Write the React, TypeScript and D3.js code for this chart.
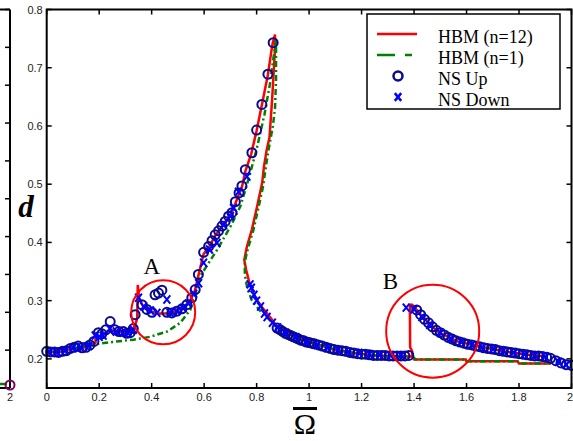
import React from "react";
import * as d3 from "d3";

const W = 573;
const H = 441;

// HBM n=12, solid red, [Omega, d]
const hbm12Main: [number, number][] = [
  [0.0, 0.212], [0.05, 0.212], [0.1, 0.218], [0.14, 0.219], [0.17, 0.225], [0.186, 0.228],
  [0.186, 0.246], [0.19, 0.236], [0.21, 0.24], [0.24, 0.25], [0.27, 0.247], [0.3, 0.246],
  [0.325, 0.247], [0.34, 0.262], [0.345, 0.27], [0.347, 0.327], [0.352, 0.305], [0.365, 0.292],
  [0.38, 0.286], [0.4, 0.281], [0.42, 0.278], [0.47, 0.278], [0.49, 0.282], [0.51, 0.286],
  [0.53, 0.292], [0.55, 0.303], [0.565, 0.318], [0.578, 0.343], [0.598, 0.38], [0.62, 0.393],
  [0.64, 0.41], [0.68, 0.435], [0.706, 0.452], [0.72, 0.468], [0.745, 0.497], [0.757, 0.522],
  [0.78, 0.553], [0.8, 0.592], [0.82, 0.636], [0.843, 0.688], [0.86, 0.74], [0.87, 0.757],
  [0.87, 0.73], [0.866, 0.7], [0.859, 0.645], [0.849, 0.58], [0.838, 0.558], [0.828, 0.53],
  [0.821, 0.502], [0.802, 0.462], [0.782, 0.422], [0.763, 0.393], [0.753, 0.37], [0.76, 0.353],
  [0.773, 0.33], [0.795, 0.305], [0.827, 0.285], [0.859, 0.267], [0.878, 0.255], [0.929, 0.241],
  [0.97, 0.233], [1.018, 0.227], [1.06, 0.221], [1.094, 0.216], [1.13, 0.213], [1.17, 0.21],
  [1.21, 0.208], [1.247, 0.206], [1.3, 0.205], [1.393, 0.204], [1.393, 0.213], [1.385, 0.22],
  [1.384, 0.293], [1.393, 0.293], [1.425, 0.276], [1.489, 0.247], [1.565, 0.23], [1.641, 0.222],
  [1.743, 0.213], [1.832, 0.207], [1.908, 0.204],
];
const hbm12Lower: [number, number][] = [
  [1.393, 0.204], [1.4, 0.199], [1.597, 0.199], [1.6, 0.196], [1.794, 0.196], [1.8, 0.192], [1.921, 0.192],
];

// HBM n=1, green dash-dot
const hbm1: [number, number][] = [
  [0.0, 0.214], [0.1, 0.218], [0.15, 0.222], [0.2, 0.226], [0.25, 0.229], [0.33, 0.233],
  [0.395, 0.238], [0.459, 0.247], [0.509, 0.262], [0.547, 0.284], [0.57, 0.315], [0.585, 0.342],
  [0.649, 0.387], [0.7, 0.427], [0.738, 0.462], [0.77, 0.51], [0.8, 0.56], [0.83, 0.62],
  [0.85, 0.67], [0.865, 0.72], [0.874, 0.748], [0.874, 0.68], [0.87, 0.63], [0.862, 0.6],
  [0.852, 0.575], [0.842, 0.55], [0.832, 0.52], [0.825, 0.497], [0.807, 0.46], [0.787, 0.42],
  [0.767, 0.39], [0.755, 0.367], [0.755, 0.345], [0.764, 0.322], [0.782, 0.3], [0.82, 0.279],
  [0.86, 0.263], [0.9, 0.25], [0.95, 0.238], [1.0, 0.229], [1.1, 0.216], [1.2, 0.208],
  [1.3, 0.204], [1.4, 0.202], [1.406, 0.199], [1.597, 0.199], [1.6, 0.196], [1.794, 0.196],
  [1.8, 0.192], [1.921, 0.192],
];

// numerical simulation, sweep up (circles)
const nsUp: [number, number][] = [
  [0.0, 0.213], [0.015, 0.212], [0.03, 0.212], [0.045, 0.211], [0.06, 0.213], [0.075, 0.214],
  [0.09, 0.218], [0.105, 0.22], [0.12, 0.222], [0.135, 0.219], [0.15, 0.22], [0.165, 0.224],
  [0.18, 0.23], [0.197, 0.245], [0.21, 0.243], [0.225, 0.25], [0.242, 0.264], [0.26, 0.25],
  [0.275, 0.247], [0.292, 0.247], [0.305, 0.244], [0.318, 0.245], [0.33, 0.252], [0.337, 0.276],
  [0.363, 0.293], [0.382, 0.285], [0.401, 0.28], [0.413, 0.31], [0.426, 0.313], [0.439, 0.318],
  [0.458, 0.28], [0.477, 0.279], [0.496, 0.282], [0.515, 0.286], [0.534, 0.293], [0.553, 0.305],
  [0.566, 0.319], [0.578, 0.345], [0.598, 0.383], [0.617, 0.393], [0.63, 0.403], [0.642, 0.413],
  [0.655, 0.42], [0.668, 0.428], [0.68, 0.436], [0.693, 0.445], [0.706, 0.451], [0.719, 0.47],
  [0.733, 0.485], [0.744, 0.497], [0.757, 0.525], [0.782, 0.554], [0.8, 0.593], [0.82, 0.637],
  [0.843, 0.689], [0.863, 0.743],
  [0.878, 0.253], [0.89, 0.25], [0.9, 0.247], [0.91, 0.244], [0.92, 0.242], [0.93, 0.24],
  [0.94, 0.238], [0.95, 0.236], [0.96, 0.234], [0.97, 0.232], [0.98, 0.231], [0.99, 0.229],
  [1.0, 0.228], [1.01, 0.227], [1.02, 0.226], [1.035, 0.224], [1.05, 0.222], [1.065, 0.22],
  [1.08, 0.218], [1.095, 0.216], [1.11, 0.215], [1.125, 0.214], [1.14, 0.213], [1.155, 0.211],
  [1.17, 0.21], [1.185, 0.209], [1.2, 0.208], [1.215, 0.208], [1.23, 0.207], [1.245, 0.206],
  [1.26, 0.206], [1.275, 0.206], [1.29, 0.206], [1.305, 0.205], [1.32, 0.205], [1.335, 0.205],
  [1.35, 0.205], [1.365, 0.205], [1.38, 0.206],
  [1.41, 0.284], [1.425, 0.276], [1.44, 0.268], [1.455, 0.262], [1.47, 0.255], [1.485, 0.249],
  [1.5, 0.245], [1.515, 0.241], [1.53, 0.237], [1.545, 0.234], [1.56, 0.231], [1.575, 0.229],
  [1.59, 0.227], [1.605, 0.225], [1.62, 0.224], [1.635, 0.222], [1.65, 0.221], [1.665, 0.219],
  [1.68, 0.218], [1.695, 0.217], [1.71, 0.216], [1.725, 0.214], [1.74, 0.213], [1.755, 0.212],
  [1.77, 0.211], [1.785, 0.21], [1.8, 0.209], [1.815, 0.208], [1.83, 0.207], [1.845, 0.206],
  [1.86, 0.205], [1.875, 0.205], [1.89, 0.204], [1.905, 0.203], [1.92, 0.201], [1.94, 0.197],
  [1.96, 0.193], [1.98, 0.19], [2.0, 0.189],
];

// numerical simulation, sweep down (crosses)
const nsDown: [number, number][] = [
  [1.98, 0.19], [1.95, 0.195], [1.9, 0.204], [1.86, 0.206], [1.82, 0.208], [1.78, 0.211],
  [1.74, 0.214], [1.7, 0.217], [1.66, 0.22], [1.62, 0.224], [1.58, 0.229], [1.54, 0.235],
  [1.5, 0.245], [1.46, 0.258], [1.43, 0.272], [1.4, 0.285], [1.37, 0.288],
  [1.35, 0.206], [1.31, 0.206], [1.27, 0.207], [1.23, 0.208], [1.19, 0.21], [1.15, 0.212],
  [1.11, 0.215], [1.07, 0.219], [1.03, 0.224], [0.99, 0.229], [0.95, 0.237], [0.91, 0.245],
  [0.88, 0.254], [0.86, 0.262], [0.84, 0.272], [0.83, 0.278], [0.815, 0.29], [0.8, 0.3],
  [0.79, 0.31], [0.78, 0.322], [0.775, 0.328],
  [0.763, 0.513], [0.731, 0.487], [0.712, 0.459], [0.7, 0.445], [0.674, 0.43], [0.649, 0.399],
  [0.62, 0.388], [0.598, 0.365], [0.579, 0.33], [0.56, 0.312], [0.54, 0.295], [0.52, 0.287],
  [0.496, 0.282], [0.47, 0.279], [0.458, 0.302], [0.42, 0.279], [0.395, 0.283], [0.37, 0.29],
  [0.35, 0.305], [0.33, 0.25], [0.31, 0.244], [0.29, 0.245], [0.265, 0.247], [0.24, 0.252],
  [0.215, 0.24], [0.2, 0.238], [0.185, 0.24], [0.16, 0.222], [0.13, 0.22], [0.1, 0.219],
  [0.07, 0.214], [0.04, 0.211], [0.01, 0.212],
];

const xTicks = [0, 0.2, 0.4, 0.6, 0.8, 1, 1.2, 1.4, 1.6, 1.8, 2];
const yTicks = [0.2, 0.3, 0.4, 0.5, 0.6, 0.7, 0.8];
const legendLabels = ["HBM (n=12)", "HBM (n=1)", "NS Up", "NS Down"];

const calloutNames = ["A", "B"];
const calloutCenters: [number, number][] = [[0.444, 0.28], [1.471, 0.2476]];
const calloutLabelAt: [number, number][] = [[0.401, 0.345], [1.31, 0.32]];

// the neighbouring panel that is cut off on the left
const sideTicks = [0, 0.1, 0.2, 0.3, 0.4, 0.5, 0.6, 0.7, 0.8, 0.9, 1];

const RED = "#ff0000";
const GREEN = "#008000";
const NAVY = "#0a0a8c";
const BLUE = "#0000ff";
const SANS = "'Liberation Sans', Arial, sans-serif";
const SERIF = "'Liberation Serif', 'Times New Roman', serif";

export default function App() {
  const left = 46.7;
  const right = 571.5;
  const top = 9.5;
  const bottom = 388;

  const x = d3.scaleLinear().domain([0, 2]).range([left, right]);
  const y = d3.scaleLinear().domain([0.15, 0.8]).range([bottom, top]);
  const side = d3.scaleLinear().domain([0, 1]).range([bottom, top]);

  const line = d3
    .line<[number, number]>()
    .x((d) => x(d[0]))
    .y((d) => y(d[1]));

  const cross = (cx: number, cy: number, s: number) =>
    `M${cx - s},${cy - s * 1.2}L${cx + s},${cy + s * 1.2}M${cx - s},${cy + s * 1.2}L${cx + s},${cy - s * 1.2}`;

  const tickLen = 5;
  const radii = [32, 46.5];

  // legend box
  const lg = { x: 367, y: 14, w: 193, h: 95 };
  const rowY = (i: number) => lg.y + 20 + i * 21;

  return (
    <svg
      width={W}
      height={H}
      style={{ position: "absolute", left: 0, top: 0, background: "#fff" }}
    >
      {/* remnant of the panel on the left */}
      <g stroke="#000" strokeWidth={2}>
        <line x1={0} x2={10} y1={top} y2={top} />
        <line x1={0} x2={10} y1={bottom} y2={bottom} />
        <line x1={10} x2={10} y1={top} y2={bottom} />
        {sideTicks.map((t) => (
          <line key={t} x1={10} x2={10 - tickLen} y1={side(t)} y2={side(t)} strokeWidth={1.5} />
        ))}
      </g>
      <line x1={0} x2={7} y1={384} y2={384} stroke={GREEN} strokeWidth={2.5} />
      <circle cx={10} cy={385} r={4.5} fill="none" stroke="#800060" strokeWidth={2} />
      <text x={10} y={401} fontFamily={SANS} fontSize={11} fill="#222" textAnchor="middle">2</text>

      {/* data */}
      <path d={line(hbm12Main) || ""} fill="none" stroke={RED} strokeWidth={2.5} />
      <path d={line(hbm12Lower) || ""} fill="none" stroke={RED} strokeWidth={2.5} />
      <path
        d={line(hbm1) || ""}
        fill="none"
        stroke={GREEN}
        strokeWidth={2.5}
        strokeDasharray="6,3,2,3"
      />
      {nsUp.map((d, i) => (
        <circle key={"u" + i} cx={x(d[0])} cy={y(d[1])} r={4.5} fill="none" stroke={NAVY} strokeWidth={2} />
      ))}
      {nsDown.map((d, i) => (
        <path key={"d" + i} d={cross(x(d[0]), y(d[1]), 3.4)} stroke={BLUE} strokeWidth={2} fill="none" />
      ))}

      {/* callouts */}
      {calloutNames.map((n, i) => (
        <g key={n}>
          <circle
            cx={x(calloutCenters[i][0])}
            cy={y(calloutCenters[i][1])}
            r={radii[i]}
            fill="none"
            stroke={RED}
            strokeWidth={2}
          />
          <text
            x={x(calloutLabelAt[i][0])}
            y={y(calloutLabelAt[i][1])}
            fontFamily={SERIF}
            fontSize={23}
            textAnchor="middle"
          >
            {n}
          </text>
        </g>
      ))}

      {/* axes box */}
      <rect x={left} y={top} width={right - left} height={bottom - top} fill="none" stroke="#000" strokeWidth={2} />
      <g stroke="#000" strokeWidth={1.5}>
        {xTicks.map((t) => (
          <g key={"x" + t}>
            <line x1={x(t)} x2={x(t)} y1={bottom} y2={bottom - tickLen} />
            <line x1={x(t)} x2={x(t)} y1={top} y2={top + tickLen} />
          </g>
        ))}
        {yTicks.map((t) => (
          <g key={"y" + t}>
            <line x1={left} x2={left + tickLen} y1={y(t)} y2={y(t)} />
            <line x1={right} x2={right - tickLen} y1={y(t)} y2={y(t)} />
          </g>
        ))}
      </g>
      {xTicks.map((t, i) => {
        const last = i === xTicks.length - 1;
        return (
          <text
            key={"xl" + t}
            x={last ? W : x(t)}
            y={401}
            fontFamily={SANS}
            fontSize={11}
            fill="#222"
            textAnchor={last ? "end" : "middle"}
          >
            {String(t)}
          </text>
        );
      })}
      {yTicks.map((t) => (
        <text
          key={"yl" + t}
          x={left - 4}
          y={y(t) + 4}
          fontFamily={SANS}
          fontSize={11}
          fill="#222"
          textAnchor="end"
        >
          {t.toFixed(1)}
        </text>
      ))}

      {/* axis labels */}
      <text x={26} y={217} fontFamily={SERIF} fontSize={31} fontWeight="bold" fontStyle="italic" textAnchor="middle">
        d
      </text>
      <rect x={293} y={407} width={24} height={3} fill="#000" />
      <text x={305} y={434} fontFamily={SERIF} fontSize={30} textAnchor="middle">
        Ω
      </text>

      {/* legend */}
      <rect x={lg.x} y={lg.y} width={lg.w} height={lg.h} fill="#fff" stroke="#000" strokeWidth={1.5} />
      <line x1={377} x2={417} y1={rowY(0)} y2={rowY(0)} stroke={RED} strokeWidth={2.5} />
      <line x1={377} x2={417} y1={rowY(1)} y2={rowY(1)} stroke={GREEN} strokeWidth={2.5} strokeDasharray="18,10,7,10" />
      <circle cx={398} cy={rowY(2)} r={4.5} fill="none" stroke={NAVY} strokeWidth={2.5} />
      <path d={cross(398, rowY(3), 3.2)} stroke={BLUE} strokeWidth={2.5} fill="none" />
      {legendLabels.map((s, i) => (
        <text key={s} x={438} y={rowY(i) + 9} fontFamily={SERIF} fontSize={18}>
          {s}
        </text>
      ))}
    </svg>
  );
}
